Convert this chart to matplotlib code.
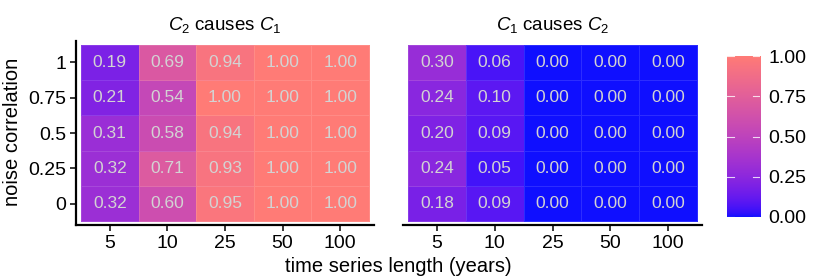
import numpy as np
import matplotlib
matplotlib.use("Agg")
import matplotlib.pyplot as plt
from matplotlib.colors import ListedColormap, Normalize

plt.rcParams['font.family'] = ['Liberation Sans', 'DejaVu Sans']
plt.rcParams['mathtext.fontset'] = 'custom'
plt.rcParams['mathtext.rm'] = 'Liberation Sans'
plt.rcParams['mathtext.it'] = 'Liberation Sans:italic'

# ---- data ----
lengths = ["5", "10", "25", "50", "100"]
noise = ["0", "0.25", "0.5", "0.75", "1"]  # bottom to top
c2_causes_c1 = [  # rows: noise 0, 0.25, 0.5, 0.75, 1
    [0.32, 0.60, 0.95, 1.00, 1.00],
    [0.32, 0.71, 0.93, 1.00, 1.00],
    [0.31, 0.58, 0.94, 1.00, 1.00],
    [0.21, 0.54, 1.00, 1.00, 1.00],
    [0.19, 0.69, 0.94, 1.00, 1.00],
]
c1_causes_c2 = [
    [0.18, 0.09, 0.00, 0.00, 0.00],
    [0.24, 0.05, 0.00, 0.00, 0.00],
    [0.20, 0.09, 0.00, 0.00, 0.00],
    [0.24, 0.10, 0.00, 0.00, 0.00],
    [0.30, 0.06, 0.00, 0.00, 0.00],
]
titles = [r"$C_2$ causes $C_1$", r"$C_1$ causes $C_2$"]
cbar_ticks = [0.0, 0.25, 0.5, 0.75, 1.0]

# ---- Lab-interpolated gradient (like ggplot2) ----
def srgb_to_lin(c):
    c = np.asarray(c, float)
    return np.where(c <= 0.04045, c / 12.92, ((c + 0.055) / 1.055) ** 2.4)

def lin_to_srgb(c):
    c = np.clip(c, 0, 1)
    return np.where(c <= 0.0031308, 12.92 * c, 1.055 * c ** (1 / 2.4) - 0.055)

M = np.array([[0.4124, 0.3576, 0.1805], [0.2126, 0.7152, 0.0722], [0.0193, 0.1192, 0.9505]])
Minv = np.linalg.inv(M)
wp = np.array([0.95047, 1.0, 1.08883])

def f(t):
    d = 6 / 29
    return np.where(t > d ** 3, np.cbrt(t), t / (3 * d * d) + 4 / 29)

def finv(t):
    d = 6 / 29
    return np.where(t > d, t ** 3, 3 * d * d * (t - 4 / 29))

def rgb2lab(rgb):
    xyz = M @ srgb_to_lin(rgb) / wp
    fx, fy, fz = f(xyz)
    return np.array([116 * fy - 16, 500 * (fx - fy), 200 * (fy - fz)])

def lab2rgb(lab):
    L, a, b = lab
    fy = (L + 16) / 116
    fx = fy + a / 500
    fz = fy - b / 200
    xyz = np.array([finv(fx), finv(fy), finv(fz)]) * wp
    return lin_to_srgb(Minv @ xyz)

low = np.array([15, 15, 255]) / 255
high = np.array([255, 123, 118]) / 255
lab_lo, lab_hi = rgb2lab(low), rgb2lab(high)
cols = [lab2rgb(lab_lo + (lab_hi - lab_lo) * t) for t in np.linspace(0, 1, 256)]
cmap = ListedColormap(cols)
norm = Normalize(0, 1)

# ---- figure ----
W, H = 830, 277
fig = plt.figure(figsize=(W / 100, H / 100), dpi=100)

def rect(x0, y0, x1, y1):
    return [x0 / W, 1 - y1 / H, (x1 - x0) / W, (y1 - y0) / H]

panels = [rect(76, 41, 374, 225), rect(403, 41, 702, 225)]
datas = [c2_causes_c1, c1_causes_c2]
padx, pady = 0.087, 0.1
for i, (pos, data, title) in enumerate(zip(panels, datas, titles)):
    ax = fig.add_axes(pos)
    arr = np.array(data)
    xe = np.arange(len(lengths) + 1) - 0.5
    ye = np.arange(len(noise) + 1) - 0.5
    ax.pcolormesh(xe, ye, arr, cmap=cmap, norm=norm,
                  edgecolors=(1, 1, 1, 0.12), linewidth=0.6)
    for r in range(arr.shape[0]):
        for c in range(arr.shape[1]):
            ax.text(c, r, f"{arr[r, c]:.2f}", ha="center", va="center",
                    color="#D3D3D3", fontsize=12.5)
    ax.set_xlim(-0.5 - padx, len(lengths) - 0.5 + padx)
    ax.set_ylim(-0.5 - pady, len(noise) - 0.5 + pady)
    ax.set_xticks(range(len(lengths)))
    ax.set_xticklabels(lengths, fontsize=14)
    for s in ["top", "right"]:
        ax.spines[s].set_visible(False)
    ax.spines["bottom"].set_linewidth(1.6)
    ax.spines["left"].set_linewidth(1.6)
    ax.tick_params(axis="both", length=4, width=1.1, color="black", pad=3)
    if i == 0:
        ax.set_yticks(range(len(noise)))
        ax.set_yticklabels(noise, fontsize=14)
    else:
        ax.spines["left"].set_visible(False)
        ax.set_yticks([])
    ax.set_title(title, fontsize=13.5, pad=8)

fig.text(13 / W, 1 - 132 / H, "noise correlation", rotation=90,
         ha="center", va="center", fontsize=14.5)
fig.text(398 / W, 1 - 266 / H, "time series length (years)",
         ha="center", va="center", fontsize=14.5)

cax = fig.add_axes(rect(727, 53, 760, 220))
grad = np.linspace(0, 1, 256).reshape(-1, 1)
cax.imshow(grad, aspect="auto", cmap=cmap, norm=norm, origin="lower",
           extent=[0, 1, 0, 1])
cax.set_xlim(0, 1)
cax.set_ylim(-0.02, 1.02)
for t in cbar_ticks:
    cax.plot([0, 0.2], [t, t], color="white", lw=0.8, alpha=0.8)
    cax.plot([0.8, 1], [t, t], color="white", lw=0.8, alpha=0.8)
cax.set_xticks([])
cax.yaxis.tick_right()
cax.set_yticks(cbar_ticks)
cax.set_yticklabels([f"{t:.2f}" for t in cbar_ticks], fontsize=14)
cax.tick_params(axis="y", length=0, pad=6)
for s in cax.spines.values():
    s.set_visible(False)

fig.savefig("out.png", dpi=100)
